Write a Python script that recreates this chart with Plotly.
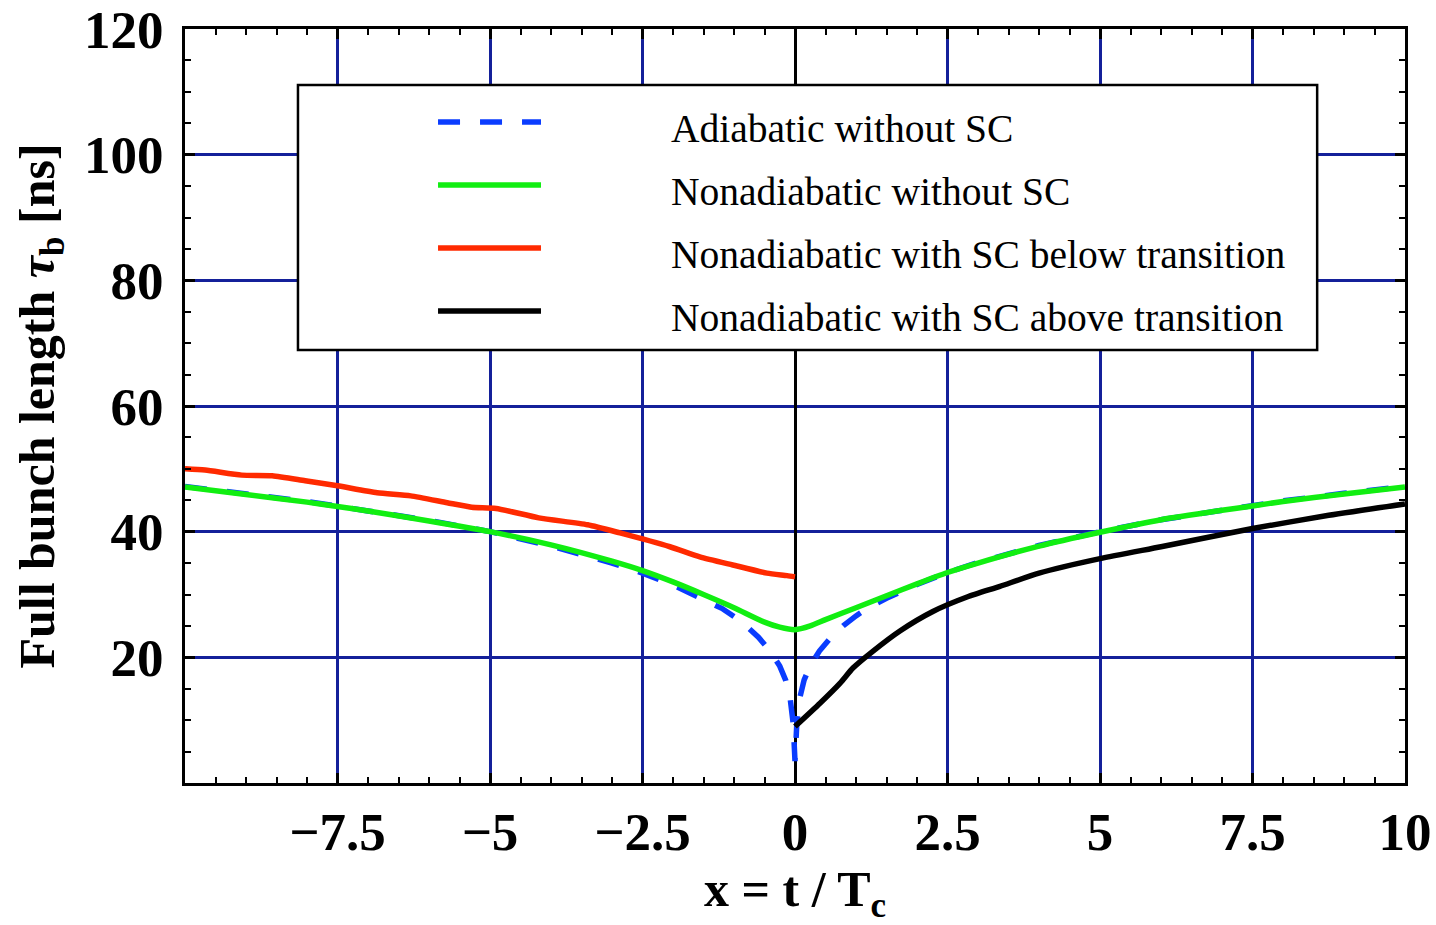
import plotly.graph_objects as go

# ---------------- data ----------------
x_adiabatic = [-10, -9, -8, -7, -6, -5, -4, -3, -2.5, -2, -1.5, -1.2, -1, -0.8, -0.6, -0.4,
               -0.25, -0.15, -0.08, -0.03, 0, 0.03, 0.08, 0.15, 0.25, 0.4, 0.6, 0.8, 1, 1.2,
               1.5, 2, 2.5, 3, 4, 5, 6, 7, 8, 9, 10]
y_adiabatic = [47.2, 46.0, 44.8, 43.3, 41.8, 40.0, 37.7, 35.0, 33.4, 31.5, 29.3, 27.8, 26.5,
               25.0, 23.2, 20.9, 18.6, 16.3, 13.5, 9.5, 3.5, 9.5, 13.6, 16.4, 18.7, 21.0, 23.3,
               25.1, 26.6, 27.9, 29.4, 31.6, 33.5, 35.1, 37.8, 40.0, 41.9, 43.5, 44.9, 46.1, 47.2]

x_nonad = [-10, -9, -8, -7.5, -7, -6, -5, -4, -3, -2.5, -2, -1.5, -1, -0.5, -0.25, 0,
           0.25, 0.5, 1, 1.5, 2, 2.5, 3, 4, 5, 6, 7, 7.5, 8, 9, 10]
y_nonad = [47.1, 45.9, 44.7, 44.0, 43.3, 41.7, 40.0, 37.9, 35.3, 33.8, 32.0, 30.0, 27.9, 25.6,
           24.8, 24.4, 25.0, 26.0, 27.9, 29.8, 31.7, 33.5, 35.0, 37.7, 39.9, 41.9, 43.4, 44.1,
           44.8, 46.0, 47.1]

x_sc_below = [-10, -9.67, -9.07, -8.57, -8.03, -7.5, -6.85, -6.3, -5.7, -5.3, -4.9, -4.2,
              -3.4, -2.87, -2.05, -1.56, -1.02, -0.46, -0.13, 0]
y_sc_below = [50.0, 49.8, 49.0, 48.9, 48.1, 47.3, 46.2, 45.7, 44.6, 43.9, 43.7, 42.2,
              41.1, 39.8, 37.6, 36.0, 34.7, 33.4, 33.0, 32.8]

x_sc_above = [0, 0.41, 0.74, 0.95, 1.28, 1.72, 2.26, 2.82, 3.36, 4, 5, 6, 7.5, 8.75, 10]
y_sc_above = [9.0, 12.7, 15.9, 18.3, 21.0, 24.2, 27.3, 29.6, 31.3, 33.4, 35.7, 37.6, 40.5,
              42.6, 44.4]

series_names = ["Adiabatic without SC", "Nonadiabatic without SC",
                "Nonadiabatic with SC below transition", "Nonadiabatic with SC above transition"]
series_colors = ["#0a3cff", "#11ee11", "#ff2a00", "#000000"]
series_dash = ["22px,20px", "solid", "solid", "solid"]

x_tickvals = [-7.5, -5, -2.5, 0, 2.5, 5, 7.5, 10]
y_tickvals = [20, 40, 60, 80, 100, 120]

x_title = "x = t / T<sub>c</sub>"
y_title = "Full bunch length <i>τ</i><sub>b</sub> [ns]"

# ---------------- figure ----------------
FONT = "Liberation Serif, Times New Roman, serif"
GRID = "#14209a"
LW = 5.5

fig = go.Figure()
fig.add_trace(go.Scatter(x=x_adiabatic, y=y_adiabatic, mode="lines", name=series_names[0],
                         line=dict(color=series_colors[0], width=LW, dash=series_dash[0])))
fig.add_trace(go.Scatter(x=x_sc_below, y=y_sc_below, mode="lines", name=series_names[2],
                         line=dict(color=series_colors[2], width=LW, shape="spline", smoothing=0.6)))
fig.add_trace(go.Scatter(x=x_sc_above, y=y_sc_above, mode="lines", name=series_names[3],
                         line=dict(color=series_colors[3], width=LW, shape="spline", smoothing=0.6)))
fig.add_trace(go.Scatter(x=x_nonad, y=y_nonad, mode="lines", name=series_names[1],
                         line=dict(color=series_colors[1], width=LW, shape="spline", smoothing=0.6)))

axis_common = dict(
    showgrid=True, gridcolor=GRID, gridwidth=2.5,
    showline=True, linecolor="black", linewidth=3, mirror="ticks",
    ticks="inside", ticklen=10, tickwidth=2.5, tickcolor="black",
    tickfont=dict(family=FONT, size=53, color="black", weight="bold"),
    automargin=False,
)

fig.update_xaxes(
    range=[-10, 10], tickvals=x_tickvals,
    zeroline=True, zerolinecolor="black", zerolinewidth=2.5,
    minor=dict(tick0=0, dtick=0.5, ticks="inside", ticklen=6, tickwidth=2, tickcolor="black",
               showgrid=False),
    ticklabelstandoff=0,
    **axis_common,
)
fig.update_yaxes(
    range=[0, 120], tickvals=y_tickvals, zeroline=False,
    minor=dict(tick0=0, dtick=5, ticks="inside", ticklen=6, tickwidth=2, tickcolor="black",
               showgrid=False),
    title=dict(text=y_title,
               font=dict(family=FONT, size=50, color="black", weight="bold"), standoff=14),
    ticklabelstandoff=8,
    **axis_common,
)

# ---------------- legend drawn as a boxed key ----------------
box_x0, box_x1 = 0.0926, 0.928
box_y0, box_y1 = 0.5743, 0.9257
line_x0, line_x1 = 0.2074, 0.2918
text_x = 0.3967
row_y = [0.8767, 0.7931, 0.7095, 0.6260]

shapes = [dict(type="rect", xref="paper", yref="paper", x0=box_x0, x1=box_x1, y0=box_y0, y1=box_y1,
               line=dict(color="black", width=2.5), fillcolor="white", layer="above")]
annotations = []
for i, name in enumerate(series_names):
    shapes.append(dict(type="line", xref="paper", yref="paper", x0=line_x0, x1=line_x1,
                       y0=row_y[i], y1=row_y[i], layer="above",
                       line=dict(color=series_colors[i], width=LW, dash=series_dash[i])))
    annotations.append(dict(xref="paper", yref="paper", x=text_x, y=row_y[i] - 0.009,
                            xanchor="left", yanchor="middle", showarrow=False, text=name,
                            font=dict(family=FONT, size=39.5, color="black")))

# x-axis title placed as an annotation so it can sit at the reference position
annotations.append(dict(xref="paper", yref="paper", x=0.5, y=-0.146, xanchor="center",
                        yanchor="middle", showarrow=False, text=x_title,
                        font=dict(family=FONT, size=50, color="black", weight="bold")))

fig.update_layout(
    width=1436, height=925,
    margin=dict(l=185, r=31, t=29, b=142),
    paper_bgcolor="white", plot_bgcolor="white",
    showlegend=False,
    shapes=shapes, annotations=annotations,
)

fig.write_html("out.html")
